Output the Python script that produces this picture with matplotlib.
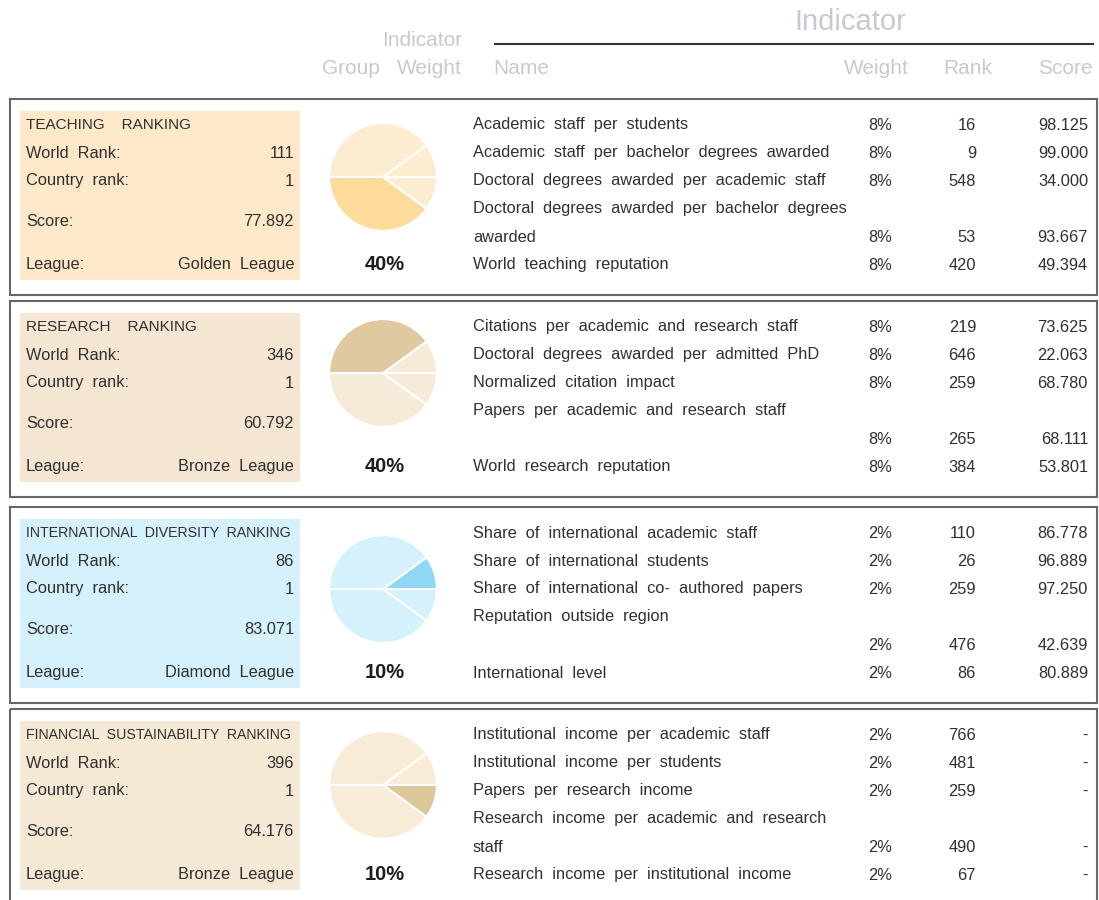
import matplotlib.pyplot as plt
from matplotlib.patches import Rectangle

plt.rcParams['font.family'] = ['Liberation Sans', 'DejaVu Sans']

# ranking groups (left panels + pie)
group_names = ['TEACHING    RANKING', 'RESEARCH    RANKING',
               'INTERNATIONAL  DIVERSITY  RANKING', 'FINANCIAL  SUSTAINABILITY  RANKING']
world_rank = [111, 346, 86, 396]
country_rank = [1, 1, 1, 1]
group_score = ['77.892', '60.792', '83.071', '64.176']
league = ['Golden  League', 'Bronze  League', 'Diamond  League', 'Bronze  League']
group_weight = [40, 40, 10, 10]
# pie slice order, counter-clockwise from 3 o'clock
pie_order = [2, 1, 0, 3]

# indicators per group ('\n' marks the wrapped names)
indicator_names = [
    ['Academic  staff  per  students',
     'Academic  staff  per  bachelor  degrees  awarded',
     'Doctoral  degrees  awarded  per  academic  staff',
     'Doctoral  degrees  awarded  per  bachelor  degrees\nawarded',
     'World  teaching  reputation'],
    ['Citations  per  academic  and  research  staff',
     'Doctoral  degrees  awarded  per  admitted  PhD',
     'Normalized  citation  impact',
     'Papers  per  academic  and  research  staff\n',
     'World  research  reputation'],
    ['Share  of  international  academic  staff',
     'Share  of  international  students',
     'Share  of  international  co-  authored  papers',
     'Reputation  outside  region\n',
     'International  level'],
    ['Institutional  income  per  academic  staff',
     'Institutional  income  per  students',
     'Papers  per  research  income',
     'Research  income  per  academic  and  research\nstaff',
     'Research  income  per  institutional  income'],
]
indicator_weight = [[8, 8, 8, 8, 8], [8, 8, 8, 8, 8], [2, 2, 2, 2, 2], [2, 2, 2, 2, 2]]
indicator_rank = [[16, 9, 548, 53, 420], [219, 646, 259, 265, 384],
                  [110, 26, 259, 476, 86], [766, 481, 259, 490, 67]]
indicator_score = [['98.125', '99.000', '34.000', '93.667', '49.394'],
                   ['73.625', '22.063', '68.780', '68.111', '53.801'],
                   ['86.778', '96.889', '97.250', '42.639', '80.889'],
                   ['-', '-', '-', '-', '-']]

panel_colors = ['#fde9c9', '#f4e6d2', '#d4f1fc', '#f5e8d5']
pie_light = ['#fdedd0', '#f6ebd9', '#d5f1fb', '#f8ecd8']
pie_dark = ['#fddb9b', '#dfc9a0', '#8fd7f4', '#dcc799']
title_fs = [11.0, 11.0, 10.2, 10.2]

W, H = 1099, 900
fig = plt.figure(figsize=(W / 100, H / 100), dpi=100)
ax = fig.add_axes([0, 0, 1, 1])
ax.set_xlim(0, W)
ax.set_ylim(H, 0)
ax.axis('off')

txt = '#303030'
head = '#c5cad2'
fs = 11.8

# header
ax.text(850, 22, 'Indicator', fontsize=21, color=head, ha='center', va='center')
ax.plot([495, 1093], [44, 44], color='#333333', lw=1.5)
ax.text(462, 40, 'Indicator', fontsize=15, color=head, ha='right', va='center')
ax.text(322, 68, 'Group', fontsize=15, color=head, ha='left', va='center')
ax.text(462, 68, 'Weight', fontsize=15, color=head, ha='right', va='center')
ax.text(493, 68, 'Name', fontsize=15, color=head, ha='left', va='center')
ax.text(909, 68, 'Weight', fontsize=15, color=head, ha='right', va='center')
ax.text(992, 68, 'Rank', fontsize=15, color=head, ha='right', va='center')
ax.text(1093, 68, 'Score', fontsize=15, color=head, ha='right', va='center')

box_tops = [99, 301, 507, 709]
box_h = 196
pie_dy = [52, 46, 56, 50]
left_dy = [0, 28, 56, 97, 140]

for g in range(4):
    top = box_tops[g]
    y0 = top + 26
    ax.add_patch(Rectangle((10, top), 1087, box_h, fill=False, ec='#666666', lw=1.5))
    ax.add_patch(Rectangle((20, top + 12), 280, 169, fc=panel_colors[g], ec='none'))

    # left panel
    ax.text(26, y0, group_names[g], fontsize=title_fs[g], color=txt, va='center')
    labels = ['World  Rank:', 'Country  rank:', 'Score:', 'League:']
    values = [str(world_rank[g]), str(country_rank[g]), group_score[g], league[g]]
    for lab, val, dy in zip(labels, values, left_dy[1:]):
        ax.text(26, y0 + dy, lab, fontsize=fs, color=txt, va='center')
        ax.text(294, y0 + dy, val, fontsize=fs, color=txt, va='center', ha='right')

    # group weight pie
    cx, cy, r = 383, y0 + pie_dy[g], 55
    pax = fig.add_axes([(cx - r) / W, 1 - (cy + r) / H, 2 * r / W, 2 * r / H])
    vals = [group_weight[i] for i in pie_order]
    cols = [pie_dark[g] if i == g else pie_light[g] for i in pie_order]
    pax.pie(vals, colors=cols, startangle=0, counterclock=True,
            wedgeprops=dict(edgecolor='white', linewidth=1.5))
    pax.set_xlim(-1.02, 1.02)
    pax.set_ylim(-1.02, 1.02)
    ax.text(385, y0 + 140, f'{group_weight[g]}%', fontsize=14.5, fontweight='bold',
            color='#1e1e1e', ha='center', va='center')

    # indicator rows
    row_y = [y0, y0 + 28, y0 + 56, y0 + 112, y0 + 140]
    for k in range(5):
        lines = indicator_names[g][k].split('\n')
        yy = row_y[k]
        if len(lines) > 1:
            ax.text(473, y0 + 84, lines[0], fontsize=fs, color=txt, va='center')
            if lines[1]:
                ax.text(473, yy, lines[1], fontsize=fs, color=txt, va='center')
        else:
            ax.text(473, yy, lines[0], fontsize=fs, color=txt, va='center')
        ax.text(880, yy, f'{indicator_weight[g][k]}%', fontsize=fs, color=txt,
                va='center', ha='center')
        ax.text(976, yy, str(indicator_rank[g][k]), fontsize=fs, color=txt,
                va='center', ha='right')
        ax.text(1088, yy, indicator_score[g][k], fontsize=fs, color=txt,
                va='center', ha='right')

fig.savefig('out.png', dpi=100, facecolor='white')
